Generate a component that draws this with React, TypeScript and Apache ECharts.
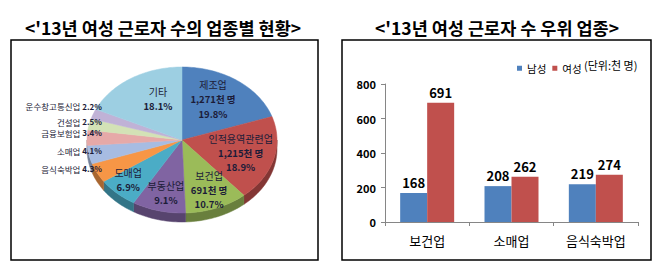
import React, { useEffect, useRef } from "react";
import * as echarts from "echarts";

// ---- data ----
const pieNames = ["제조업", "인적용역관련업", "보건업", "부동산업", "도매업", "음식숙박업", "소매업", "금융보험업", "건설업", "운수창고통신업", "기타"];
const piePercents = [19.8, 18.9, 10.7, 9.1, 6.9, 4.3, 4.1, 3.4, 2.5, 2.2, 18.1];
const pieThousands = ["1,271천 명", "1,215천 명", "691천 명", "", "", "", "", "", "", "", ""];
const pieOutside = [false, false, false, false, false, true, true, true, true, true, false];

const barCategories = ["보건업", "소매업", "음식숙박업"];
const maleValues = [168, 208, 219];
const femaleValues = [691, 262, 274];
const yTicks = [0, 200, 400, 600, 800];

const leftTitle = "<'13년 여성 근로자 수의 업종별 현황>";
const rightTitle = "<'13년 여성 근로자 수 우위 업종>";
const unitText = "(단위:천 명)";

// ---- styles / layout ----
const FONT = "'Noto Sans CJK KR', 'Noto Sans', sans-serif";
const pieColors = ["#4F81BD", "#C0504D", "#9BBB59", "#8064A2", "#4BACC6", "#F79646", "#A7BCE2", "#E6A9A8", "#D3E2B6", "#C0B2D6", "#9DCFE2"];
// label anchor as fraction of the ellipse radii [fx, fy] (inside labels); outside labels use a vertical nudge
const labelFactor: [number, number][] = [[0.56, 0.69], [0.64, 0.56], [0.78, 0.62], [0.69, 0.64], [0.83, 0.64], [1, 1], [1, 1], [1, 1], [1, 1], [1, 1], [0.47, 0.67]];
const outsideNudge = [0, 0, 0, 0, 0, 0, 0, -1, 1.5, -3.5, 0];
const CX = 182, CY = 140, RX = 95, RY = 73, DEPTH = 9;
const LABEL_COLOR = "#1C1C38";
const LINE_H = 14.5;

function darken(hex: string, f: number) {
  const n = parseInt(hex.slice(1), 16);
  const r = Math.round(((n >> 16) & 255) * f);
  const g = Math.round(((n >> 8) & 255) * f);
  const b = Math.round((n & 255) * f);
  return `rgb(${r},${g},${b})`;
}

const total = piePercents.reduce((a, b) => a + b, 0);
const sliceAngles: [number, number][] = [];
{
  let acc = 0;
  piePercents.forEach((v) => {
    const s = -Math.PI / 2 + (acc / total) * Math.PI * 2;
    acc += v;
    const e = -Math.PI / 2 + (acc / total) * Math.PI * 2;
    sliceAngles.push([s, e]);
  });
}

function arcPts(s: number, e: number, dy = 0) {
  const pts: number[][] = [];
  const n = Math.max(2, Math.ceil((e - s) / (Math.PI / 120)));
  for (let i = 0; i <= n; i++) {
    const t = s + ((e - s) * i) / n;
    pts.push([CX + RX * Math.cos(t), CY + RY * Math.sin(t) + dy]);
  }
  return pts;
}

export default function App() {
  const ref = useRef<HTMLDivElement>(null);
  useEffect(() => {
    if (!ref.current) return;
    const chart = echarts.init(ref.current, null, { renderer: "svg" });

    const sideSeries = {
      type: "custom",
      coordinateSystem: "none",
      silent: true,
      z: 1,
      data: piePercents,
      renderItem: (params: any) => {
        const i = params.dataIndex;
        const [s, e] = sliceAngles[i];
        const a = Math.max(s, 0);
        const b = Math.min(e, Math.PI);
        if (a >= b) return { type: "group", children: [] };
        const pts = arcPts(a, b, 0).concat(arcPts(a, b, DEPTH).reverse());
        return {
          type: "polygon",
          shape: { points: pts },
          style: { fill: darken(pieColors[i], 0.68), stroke: darken(pieColors[i], 0.68), lineWidth: 0.5 },
        };
      },
    };

    const topSeries = {
      type: "custom",
      coordinateSystem: "none",
      silent: true,
      z: 2,
      data: piePercents,
      renderItem: (params: any) => {
        const i = params.dataIndex;
        const [s, e] = sliceAngles[i];
        const pts = [[CX, CY]].concat(arcPts(s, e, 0));
        return {
          type: "polygon",
          shape: { points: pts },
          style: { fill: pieColors[i], stroke: pieColors[i], lineWidth: 0.5 },
        };
      },
    };

    const labelSeries = {
      type: "custom",
      coordinateSystem: "none",
      silent: true,
      z: 3,
      data: piePercents,
      renderItem: (params: any) => {
        const i = params.dataIndex;
        const [s, e] = sliceAngles[i];
        const mid = (s + e) / 2;
        const pct = piePercents[i].toFixed(1) + "%";
        if (pieOutside[i]) {
          const y = CY + RY * Math.sin(mid) - 4 + outsideNudge[i];
          const x = CX - RX + 15;
          return {
            type: "text",
            x,
            y,
            style: {
              text: `{n|${pieNames[i]}} {p|${pct}}`,
              align: "right",
              verticalAlign: "middle",
              fill: LABEL_COLOR,
              fontFamily: FONT,
              fontSize: 8.5,
              lineHeight: 9,
              rich: {
                n: { fontSize: 8.5, lineHeight: 9, fontFamily: FONT, fill: LABEL_COLOR, color: LABEL_COLOR },
                p: { fontSize: 8, lineHeight: 9, fontFamily: FONT, fontWeight: "bold", fill: LABEL_COLOR, color: LABEL_COLOR },
              },
            },
          };
        }
        const [fx, fy] = labelFactor[i];
        const x = CX + fx * RX * Math.cos(mid);
        const y = CY + fy * RY * Math.sin(mid) + 8 * Math.max(0, Math.sin(mid));
        const parts = [`{n|${pieNames[i]}}`];
        if (pieThousands[i]) parts.push(`{v|${pieThousands[i]}}`);
        parts.push(`{v|${pct}}`);
        return {
          type: "text",
          x,
          y,
          style: {
            text: parts.join("\n"),
            align: "center",
            verticalAlign: "middle",
            fill: LABEL_COLOR,
            fontFamily: FONT,
            fontSize: 10,
            lineHeight: LINE_H,
            rich: {
              n: { fontSize: 10, lineHeight: LINE_H, fontFamily: FONT, fill: LABEL_COLOR, color: LABEL_COLOR, align: "center" },
              v: { fontSize: 9.5, lineHeight: LINE_H, fontFamily: FONT, fontWeight: "bold", fill: LABEL_COLOR, color: LABEL_COLOR, align: "center" },
            },
          },
        };
      },
    };

    chart.setOption({
      animation: false,
      backgroundColor: "#ffffff",
      textStyle: { fontFamily: FONT },
      graphic: [
        { type: "rect", shape: { x: 11, y: 40, width: 307, height: 220 }, style: { fill: "none", stroke: "#000", lineWidth: 1.5 }, silent: true },
        { type: "rect", shape: { x: 342, y: 40, width: 309, height: 220 }, style: { fill: "none", stroke: "#000", lineWidth: 1.5 }, silent: true },
        { type: "text", x: 163, y: 27, style: { text: leftTitle, align: "center", verticalAlign: "middle", fontFamily: FONT, fontSize: 17.5, fontWeight: "bold", fill: "#000" } },
        { type: "text", x: 497, y: 27, style: { text: rightTitle, align: "center", verticalAlign: "middle", fontFamily: FONT, fontSize: 17.5, fontWeight: "bold", fill: "#000" } },
        { type: "text", x: 584, y: 65, style: { text: unitText, align: "left", verticalAlign: "middle", fontFamily: FONT, fontSize: 11, fill: "#000" } },
      ],
      legend: {
        data: ["남성", "여성"],
        left: 512,
        top: 58,
        icon: "rect",
        itemWidth: 5,
        itemHeight: 5,
        itemGap: 6,
        textStyle: { fontSize: 10.5, color: "#000", fontFamily: FONT },
      },
      grid: { left: 385, right: 29, top: 84, bottom: 47 },
      xAxis: {
        type: "category",
        data: barCategories,
        axisLine: { lineStyle: { color: "#868686" } },
        axisTick: { show: true, length: 4, lineStyle: { color: "#868686" } },
        axisLabel: { color: "#000", fontSize: 13, margin: 12, fontFamily: FONT },
      },
      yAxis: {
        type: "value",
        min: yTicks[0],
        max: yTicks[yTicks.length - 1],
        interval: yTicks[1] - yTicks[0],
        axisLine: { show: true, lineStyle: { color: "#868686" } },
        axisTick: { show: true, length: 4, lineStyle: { color: "#868686" } },
        splitLine: { show: false },
        axisLabel: { color: "#000", fontSize: 11, fontWeight: "bold", margin: 9, fontFamily: FONT },
      },
      series: [
        sideSeries,
        topSeries,
        labelSeries,
        {
          type: "bar",
          name: "남성",
          data: maleValues,
          barWidth: 27,
          barGap: "0%",
          itemStyle: { color: "#4F81BD" },
          label: { show: true, position: "top", distance: 4, color: "#000", fontSize: 13, fontWeight: "bold", fontFamily: FONT },
        },
        {
          type: "bar",
          name: "여성",
          data: femaleValues,
          barWidth: 27,
          barGap: "0%",
          itemStyle: { color: "#C0504D" },
          label: { show: true, position: "top", distance: 4, color: "#000", fontSize: 13, fontWeight: "bold", fontFamily: FONT },
        },
      ],
    } as any);
    return () => chart.dispose();
  }, []);
  return <div ref={ref} style={{ position: "absolute", left: 0, top: 0, width: 667, height: 269 }} />;
}
